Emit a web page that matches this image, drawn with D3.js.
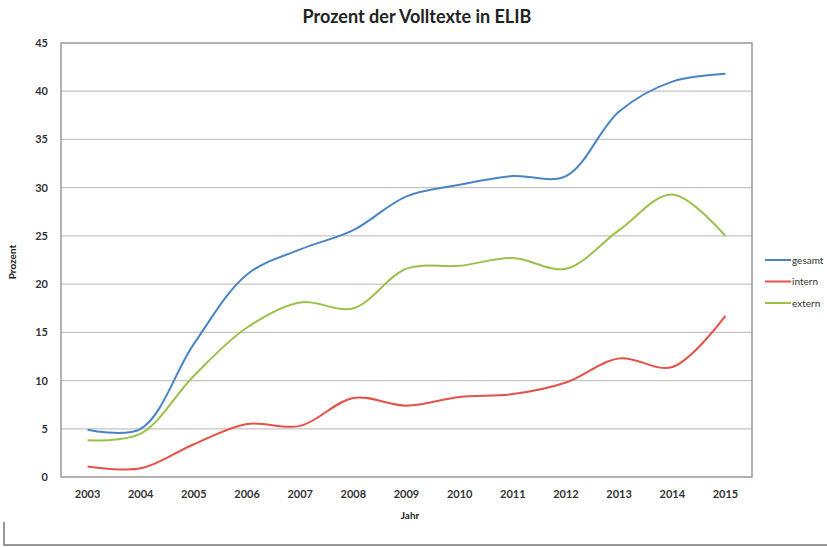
<!DOCTYPE html>
<html>
<head>
<meta charset="utf-8">
<script src="https://cdn.jsdelivr.net/npm/d3@7"></script>
<style>
  body { margin: 0; background: #fff; }
  svg { display: block; font-family: Lato, "Open Sans", sans-serif; }
</style>
</head>
<body>
<svg id="chart" width="827" height="547"></svg>
<script>
const years = ["2003","2004","2005","2006","2007","2008","2009","2010","2011","2012","2013","2014","2015"]
const gesamt = [4.9, 5.0, 13.8, 21.0, 23.6, 25.6, 29.1, 30.3, 31.2, 31.2, 37.9, 41.0, 41.8]
const intern = [1.1, 0.9, 3.4, 5.5, 5.3, 8.2, 7.4, 8.3, 8.6, 9.8, 12.3, 11.4, 16.7]
const extern = [3.8, 4.5, 10.5, 15.5, 18.1, 17.5, 21.6, 21.9, 22.7, 21.6, 25.6, 29.3, 25.0]
const yTicks = [0, 5, 10, 15, 20, 25, 30, 35, 40, 45]

const series = [
  {name: "gesamt", values: gesamt, color: "#4a84c4"},
  {name: "intern", values: intern, color: "#e5524a"},
  {name: "extern", values: extern, color: "#9cc04a"}
]

const margin = {top: 43, right: 75, bottom: 70, left: 61}
const width = 827, height = 547
const svg = d3.select("#chart")

const x = d3.scaleBand().domain(years).range([margin.left, width - margin.right])
const y = d3.scaleLinear().domain([0, 45]).range([height - margin.bottom, margin.top])

// grid lines
svg.append("g")
  .selectAll("line")
  .data(yTicks.slice(1, -1))
  .enter().append("line")
    .attr("x1", margin.left).attr("x2", width - margin.right)
    .attr("y1", d => y(d)).attr("y2", d => y(d))
    .attr("stroke", "#c4c4c4").attr("stroke-width", 1.2)

// plot frame
svg.append("rect")
  .attr("x", margin.left).attr("y", margin.top)
  .attr("width", width - margin.right - margin.left)
  .attr("height", height - margin.bottom - margin.top)
  .attr("fill", "none").attr("stroke", "#999").attr("stroke-width", 1.5)

// y axis labels
svg.append("g")
  .selectAll("text")
  .data(yTicks)
  .enter().append("text")
    .attr("x", 48).attr("y", d => y(d) + 4)
    .attr("text-anchor", "end")
    .style("font-size", "11px").style("font-weight", "bold").style("fill", "#333")
    .text(d => d)

// x axis labels
svg.append("g")
  .selectAll("text")
  .data(years)
  .enter().append("text")
    .attr("x", d => x(d) + x.bandwidth() / 2).attr("y", 498)
    .attr("text-anchor", "middle")
    .style("font-size", "11px").style("font-weight", "bold").style("fill", "#333")
    .text(d => d)

let line = d3.line()
  .x((d, i) => x(years[i]) + x.bandwidth() / 2)
  .y(d => y(d))
  .curve(d3.curveCatmullRom.alpha(0.5))

svg.append("g")
  .selectAll("path")
  .data(series)
  .enter().append("path")
    .attr("d", d => line(d.values))
    .attr("fill", "none")
    .attr("stroke", d => d.color)
    .attr("stroke-width", 2)

// legend
let legend = svg.append("g")
  .selectAll("g")
  .data(series)
  .enter().append("g")
    .attr("transform", (d, i) => "translate(765," + (260 + i * 21.5) + ")")
legend.append("line")
  .attr("x1", 0).attr("x2", 26)
  .attr("stroke", d => d.color).attr("stroke-width", 2)
legend.append("text")
  .attr("x", 27).attr("y", 3.5)
  .style("font-size", "10px").style("fill", "#333")
  .text(d => d.name)

// titles
svg.append("text")
  .attr("x", 417).attr("y", 23)
  .attr("text-anchor", "middle")
  .style("font-size", "18px").style("font-weight", "bold").style("fill", "#222")
  .text("Prozent der Volltexte in ELIB")

svg.append("text")
  .attr("x", 410).attr("y", 519)
  .attr("text-anchor", "middle")
  .style("font-size", "10px").style("font-weight", "bold").style("fill", "#222")
  .text("Jahr")

svg.append("text")
  .attr("transform", "translate(16,262) rotate(-90)")
  .attr("text-anchor", "middle")
  .style("font-size", "10px").style("font-weight", "bold").style("fill", "#222")
  .text("Prozent")

// outer chart frame, cut off at the image edge
svg.append("path")
  .attr("d", "M4,522V545H827")
  .attr("fill", "none").attr("stroke", "#777").attr("stroke-width", 1.5)
</script>
</body>
</html>
